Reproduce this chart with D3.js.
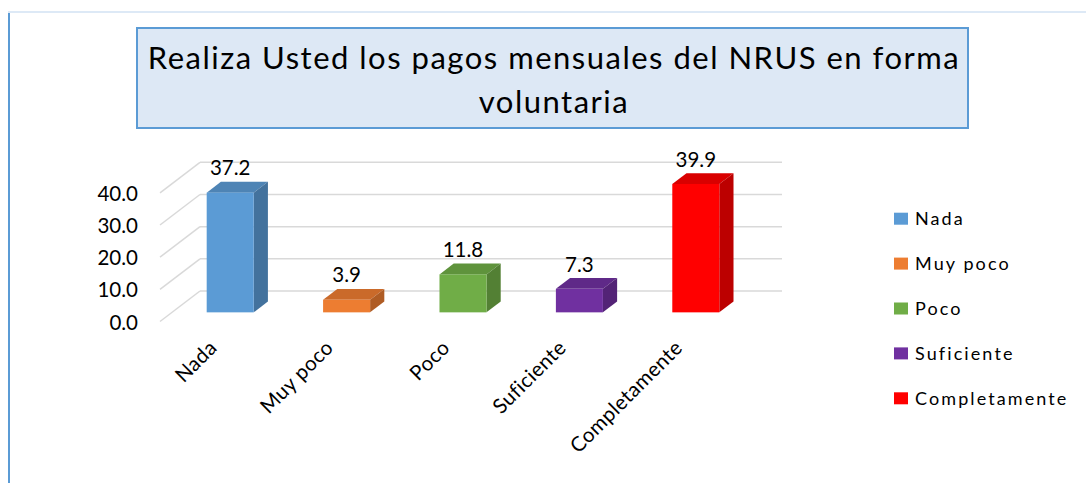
<!DOCTYPE html>
<html>
<head>
<meta charset="utf-8">
<script src="https://cdn.jsdelivr.net/npm/d3@7"></script>
<style>
	body { margin: 0; background: #fff; }
	text { font-family: Lato, "Open Sans", sans-serif; fill: #000; }
</style>
</head>
<body>
<script>

var titleLines = ["Realiza Usted los pagos mensuales del NRUS en forma", "voluntaria"];
var categories = ["Nada", "Muy poco", "Poco", "Suficiente", "Completamente"];
var values = [37.2, 3.9, 11.8, 7.3, 39.9];
var tickValues = [0, 10, 20, 30, 40];
var colors = ["#5b9bd5", "#ed7d31", "#70ad47", "#7030a0", "#ff0000"];

var width = 1086, height = 483;

//DEPTH OF THE 3D FLOOR (BACK WALL -> FRONT EDGE)
var depthX = -40, depthY = 30.5;
var zBack = 0.345, zFront = 0.70;

function px(x, z) { return x + z * depthX; }
function py(y, z) { return y + z * depthY; }

var svg = d3.select("body").append("svg")
	.attr("width", width)
	.attr("height", height);

//FRAME LINES
svg.append("line")
	.attr("x1", 8).attr("x2", width).attr("y1", 12).attr("y2", 12)
	.style("stroke", "#dde9f6").style("stroke-width", 2);
svg.append("line")
	.attr("x1", 9).attr("x2", 9).attr("y1", 13).attr("y2", height)
	.style("stroke", "#5b9bd5").style("stroke-width", 2);

//TITLE BOX
svg.append("rect")
	.attr("x", 137).attr("y", 28).attr("width", 831).attr("height", 100)
	.style("fill", "#dde8f5").style("stroke", "#5b9bd5").style("stroke-width", 2);

svg.append("g").selectAll("text")
	.data(titleLines)
	.enter().append("text")
	.attr("x", 554)
	.attr("y", function(d, i) { return 69 + i * 44; })
	.attr("text-anchor", "middle")
	.style("font-size", "31px")
	.style("letter-spacing", "1.5px")
	.text(function(d) { return d; });

//SCALES (ON THE BACK WALL)
var x = d3.scaleBand().domain(categories).range([200, 782]);
var y = d3.scaleLinear().domain([0, 40]).range([291, 162.3]);
var barW = x.bandwidth() * 0.404;

//GRIDLINES: BACK WALL + LEFT SIDE DIAGONALS
var grid = svg.append("g").style("stroke", "#d9d9d9").style("stroke-width", 1.5);
grid.selectAll("line.back")
	.data(tickValues)
	.enter().append("line")
	.attr("class", "back")
	.attr("x1", x.range()[0]).attr("x2", x.range()[1])
	.attr("y1", function(d) { return y(d); })
	.attr("y2", function(d) { return y(d); });
grid.selectAll("line.side")
	.data(tickValues)
	.enter().append("line")
	.attr("class", "side")
	.attr("x1", x.range()[0]).attr("x2", px(x.range()[0], 1))
	.attr("y1", function(d) { return y(d); })
	.attr("y2", function(d) { return py(y(d), 1); });

//Y AXIS LABELS (FRONT EDGE)
var yFront = y.copy().range(y.range().map(function(v) { return py(v, 1); }));
var yAxis = svg.append("g")
	.attr("transform", "translate(138,1)")
	.call(d3.axisLeft(yFront).tickValues(tickValues).tickFormat(d3.format(".1f")).tickSize(0).tickPadding(0));
yAxis.select(".domain").remove();
yAxis.selectAll("text").style("font-size", "20.5px").style("font-family", "Lato, sans-serif").attr("fill", "#000");

//BARS
function poly(pts) {
	return "M" + pts.map(function(p) { return p[0] + "," + p[1]; }).join("L") + "Z";
}

var bars = svg.append("g").selectAll("g")
	.data(values)
	.enter().append("g");

bars.each(function(d, i) {
	var g = d3.select(this);
	var x0 = x(categories[i]) + (x.bandwidth() - barW) / 2;
	var x1 = x0 + barW;
	var y0 = y(0), y1 = y(d);
	var c = d3.color(colors[i]);

	//TOP
	g.append("path")
		.attr("d", poly([[px(x0, zFront), py(y1, zFront)], [px(x1, zFront), py(y1, zFront)],
			[px(x1, zBack), py(y1, zBack)], [px(x0, zBack), py(y1, zBack)]]))
		.style("fill", c.darker(0.45));
	//SIDE
	g.append("path")
		.attr("d", poly([[px(x1, zFront), py(y1, zFront)], [px(x1, zBack), py(y1, zBack)],
			[px(x1, zBack), py(y0, zBack)], [px(x1, zFront), py(y0, zFront)]]))
		.style("fill", c.darker(0.85));
	//FRONT
	g.append("rect")
		.attr("x", px(x0, zFront))
		.attr("y", py(y1, zFront))
		.attr("width", barW)
		.attr("height", y0 - y1)
		.style("fill", colors[i]);
	//VALUE LABEL
	g.append("text")
		.attr("x", px(x0, zFront) + barW / 2)
		.attr("y", py(y1, zBack) - 6.5)
		.attr("text-anchor", "middle")
		.style("font-size", "20.5px")
		.text(d3.format(".1f")(d));
});

//CATEGORY LABELS
svg.append("g").selectAll("text")
	.data(categories)
	.enter().append("text")
	.attr("transform", function(d) {
		var cx = px(x(d) + x.bandwidth() / 2, 1);
		return "translate(" + cx + ",349) rotate(-45)";
	})
	.attr("text-anchor", "end")
	.style("font-size", "20.5px")
	.style("letter-spacing", "0.4px")
	.text(function(d) { return d; });

//LEGEND
var legend = svg.append("g").selectAll("g")
	.data(categories)
	.enter().append("g")
	.attr("transform", function(d, i) { return "translate(894," + (218.7 + i * 44.9) + ")"; });
legend.append("rect")
	.attr("x", 0).attr("y", -6).attr("width", 14).attr("height", 12)
	.style("fill", function(d, i) { return colors[i]; });
legend.append("text")
	.attr("x", 21)
	.attr("dy", "0.35em")
	.style("font-size", "18px")
	.style("letter-spacing", "2.1px")
	.text(function(d) { return d; });

</script>
</body>
</html>
